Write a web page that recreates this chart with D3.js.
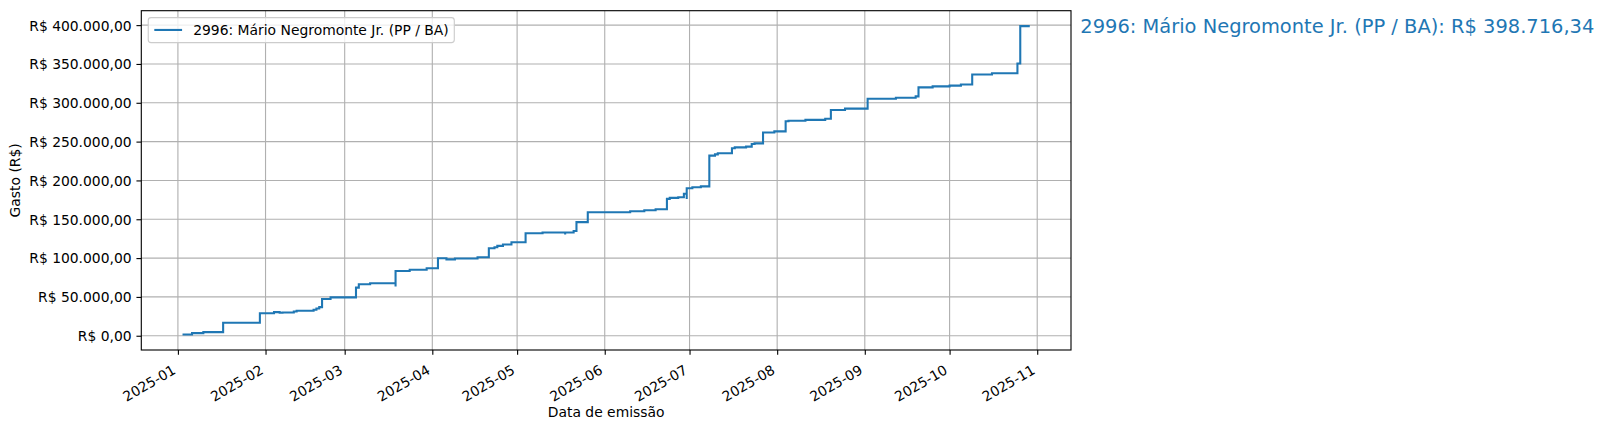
<!DOCTYPE html>
<html>
<head>
<meta charset="utf-8">
<script src="https://cdn.jsdelivr.net/npm/d3@7"></script>
<style>
  html, body { margin: 0; padding: 0; background: #ffffff; }
  svg { display: block; font-family: "DejaVu Sans", sans-serif; }
</style>
</head>
<body>
<svg id="chart" width="1604" height="430"></svg>
<script>
// ---- data ----
const seriesName = "2996: Mário Negromonte Jr. (PP / BA)";
const finalLabel = "2996: Mário Negromonte Jr. (PP / BA): R$ 398.716,34";
const xLabel = "Data de emissão";
const yLabel = "Gasto (R$)";

const dates = [
  "2025-01-03","2025-01-06","2025-01-10","2025-01-17","2025-01-30",
  "2025-02-04","2025-02-06","2025-02-07","2025-02-11","2025-02-12",
  "2025-02-18","2025-02-19","2025-02-20","2025-02-21","2025-02-24",
  "2025-03-05","2025-03-06","2025-03-10","2025-03-19","2025-03-19",
  "2025-03-24","2025-03-30","2025-04-03","2025-04-06","2025-04-09",
  "2025-04-17","2025-04-21","2025-04-23","2025-04-24","2025-04-26",
  "2025-04-29","2025-05-04","2025-05-10","2025-05-18","2025-05-18",
  "2025-05-21","2025-05-22","2025-05-26","2025-06-10","2025-06-15",
  "2025-06-19","2025-06-23","2025-06-24","2025-06-27","2025-06-29",
  "2025-06-30","2025-06-30","2025-07-02","2025-07-05","2025-07-08",
  "2025-07-10","2025-07-11","2025-07-16","2025-07-17","2025-07-21",
  "2025-07-23","2025-07-24","2025-07-27","2025-07-31","2025-08-04",
  "2025-08-05","2025-08-11","2025-08-18","2025-08-20","2025-08-25",
  "2025-09-02","2025-09-12","2025-09-19","2025-09-20","2025-09-25",
  "2025-10-01","2025-10-05","2025-10-09","2025-10-16","2025-10-25",
  "2025-10-26","2025-10-29"
];
const cumulative = [
  1500, 3400, 4700, 16700, 29000,
  30400, 29600, 30000, 31300, 32100,
  33400, 35000, 36800, 47300, 49400,
  62000, 66400, 67700, 63400, 83300,
  84900, 87000, 99800, 98300, 99400,
  101000, 112700, 114000, 115700, 117400,
  120400, 132000, 133000, 130300, 133000,
  134800, 146300, 159000, 160300, 161600,
  162900, 176300, 177500, 178300, 182800,
  176000, 189900, 191200, 192400, 231900,
  233600, 234900, 241500, 242600, 243500,
  247000, 247700, 261700, 263200, 276200,
  276900, 278000, 279500, 290800, 292500,
  305200, 306500, 308200, 319800, 321100,
  322100, 323600, 336500, 338000, 350600,
  398716.34, 398716.34
];
const yTickValues = [0, 50000, 100000, 150000, 200000, 250000, 300000, 350000, 400000];
const xTickMonths = ["2025-01","2025-02","2025-03","2025-04","2025-05","2025-06",
                     "2025-07","2025-08","2025-09","2025-10","2025-11"];

// ---- layout ----
const W = 1604, H = 430;
const L = 141.3, R = 1071, T = 10.7, B = 350;
const PT = 100 / 72;
const fs = 10 * PT;          // 13.89 px
const color = "#1f77b4";

const parse = d3.timeParse("%Y-%m-%d");
const parseMonth = d3.timeParse("%Y-%m");
const data = dates.map((d, i) => ({ date: parse(d), value: cumulative[i] }));

// matplotlib-style 5% margins
const xExt = d3.extent(data, d => d.date.getTime());
const xPad = (xExt[1] - xExt[0]) * 0.05;
const yExt = d3.extent(data, d => d.value);
const yPad = (yExt[1] - yExt[0]) * 0.05;

const x = d3.scaleTime()
  .domain([new Date(xExt[0] - xPad), new Date(xExt[1] + xPad)])
  .range([L, R]);
const y = d3.scaleLinear()
  .domain([yExt[0] - yPad, yExt[1] + yPad])
  .range([B, T]);

const locale = d3.formatLocale({ decimal: ",", thousands: ".", grouping: [3], currency: ["R$ ", ""] });
const fmtY = locale.format("$,.2f");
const fmtX = d3.timeFormat("%Y-%m");
const xTicks = xTickMonths.map(parseMonth);

const svg = d3.select("#chart");
svg.append("rect").attr("width", W).attr("height", H).attr("fill", "#ffffff");

// grid
const grid = svg.append("g").attr("stroke", "#b0b0b0").attr("stroke-width", 0.8 * PT);
grid.selectAll("line.gx").data(xTicks).join("line")
  .attr("x1", d => x(d)).attr("x2", d => x(d)).attr("y1", T).attr("y2", B);
grid.selectAll("line.gy").data(yTickValues).join("line")
  .attr("x1", L).attr("x2", R).attr("y1", d => y(d)).attr("y2", d => y(d));

// line
const line = d3.line().curve(d3.curveStepAfter).x(d => x(d.date)).y(d => y(d.value));
svg.append("path").datum(data)
  .attr("d", line)
  .attr("fill", "none")
  .attr("stroke", color)
  .attr("stroke-width", 1.5 * PT)
  .attr("stroke-linejoin", "miter")
  .attr("stroke-linecap", "square");

// axes
const tickLen = 3.5 * PT, pad = 3.5 * PT;
const yAxis = d3.axisLeft(y).tickValues(yTickValues).tickFormat(fmtY)
  .tickSizeInner(tickLen).tickSizeOuter(0).tickPadding(pad);
const gy = svg.append("g").attr("transform", `translate(${L},0)`).call(yAxis);
gy.select(".domain").remove();
gy.selectAll(".tick line").attr("stroke", "#000").attr("stroke-width", 0.8 * PT);
gy.selectAll(".tick text").attr("font-size", fs).attr("fill", "#000")
  .attr("font-family", "DejaVu Sans").attr("dy", "0.35em");

const xAxis = d3.axisBottom(x).tickValues(xTicks).tickFormat(fmtX)
  .tickSizeInner(tickLen).tickSizeOuter(0).tickPadding(pad);
const gx = svg.append("g").attr("transform", `translate(0,${B})`).call(xAxis);
gx.select(".domain").remove();
gx.selectAll(".tick line").attr("stroke", "#000").attr("stroke-width", 0.8 * PT);
const asc = 0.928 * fs, desc = 0.236 * fs;
const th = Math.PI / 6;
gx.selectAll(".tick text")
  .attr("font-size", fs).attr("fill", "#000").attr("font-family", "DejaVu Sans")
  .attr("text-anchor", "end")
  .attr("dy", null)
  .attr("y", null)
  .attr("transform", function () {
    const ex = -desc * Math.sin(th);
    const ey = tickLen + pad + asc * Math.cos(th) + 2;
    return `translate(${ex},${ey}) rotate(-30)`;
  });

// spines
svg.append("rect").attr("x", L).attr("y", T).attr("width", R - L).attr("height", B - T)
  .attr("fill", "none").attr("stroke", "#000").attr("stroke-width", 0.8 * PT);

// axis labels
svg.append("text").text(xLabel)
  .attr("x", (L + R) / 2).attr("y", 417)
  .attr("text-anchor", "middle").attr("font-size", fs).attr("fill", "#000");
svg.append("text").text(yLabel)
  .attr("transform", `translate(20.3,${(T + B) / 2}) rotate(-90)`)
  .attr("text-anchor", "middle").attr("font-size", fs).attr("fill", "#000");

// legend
const lg = svg.append("g");
const lx = L + 0.5 * fs, ly = T + 0.5 * fs;
const bp = 0.4 * fs;
const legBox = lg.append("rect");
const handleX0 = lx + bp + 0.5;
lg.append("line")
  .attr("x1", handleX0).attr("x2", handleX0 + 2 * fs)
  .attr("y1", ly + 12.3).attr("y2", ly + 12.3)
  .attr("stroke", color).attr("stroke-width", 1.5 * PT);
const lt = lg.append("text").text(seriesName)
  .attr("x", handleX0 + 2 * fs + 0.8 * fs).attr("y", ly + 12.3 + 0.35 * fs)
  .attr("font-size", fs).attr("fill", "#000");
const tw = lt.node().getComputedTextLength();
legBox.attr("x", lx).attr("y", ly)
  .attr("width", (handleX0 + 2.8 * fs + tw + bp) - lx)
  .attr("height", 25)
  .attr("rx", 2.8).attr("ry", 2.8)
  .attr("fill", "#ffffff").attr("fill-opacity", 0.8)
  .attr("stroke", "#cccccc").attr("stroke-width", 0.8 * PT);

// final value annotation (outside plot, at 1.01 axes fraction)
const last = data[data.length - 1];
const fsBig = 14 * PT;
svg.append("text").text(finalLabel)
  .attr("x", L + 1.01 * (R - L))
  .attr("y", y(last.value) + (0.928 - 0.236) / 2 * fsBig)
  .attr("font-size", fsBig).attr("fill", color);
</script>
</body>
</html>
